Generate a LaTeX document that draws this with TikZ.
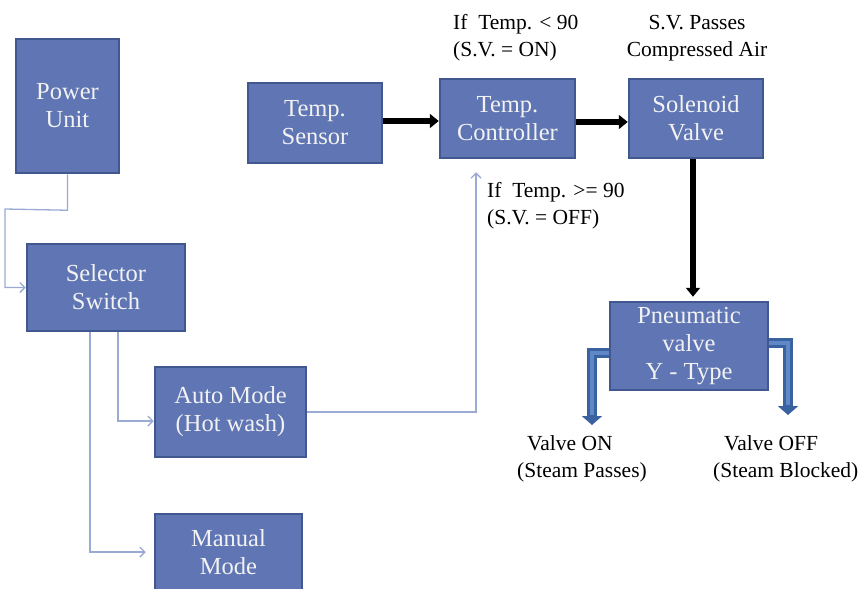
\documentclass[tikz,border=0pt]{standalone}
\usepackage{fontspec}
\setmainfont{Liberation Serif}
\usetikzlibrary{arrows.meta,calc}
\definecolor{boxfill}{HTML}{5F75B4}
\definecolor{boxline}{HTML}{42568F}
\definecolor{connline}{HTML}{9AAAD4}
\definecolor{bluedark}{HTML}{3A62A0}
\definecolor{bluelight}{HTML}{5F88C6}
\begin{document}
\begin{tikzpicture}[x=1pt,y=-1pt,
  blockbox/.style={draw=boxline,fill=boxfill,line width=2.5pt,text=white!95!black,
    align=center,inner sep=0pt,font=\fontsize{24.5}{28}\selectfont},
  conn/.style={draw=connline,line width=1.3pt,-{Straight Barb[length=5pt,width=10pt]}},
  thickarrow/.style={draw=black,line width=5.5pt,-{Triangle[length=9pt,width=14pt]}},
  lbl/.style={inner sep=0pt,align=left,font=\fontsize{21.5}{27}\selectfont},
  blueouter/.style={draw=bluedark,line width=10pt,-{Triangle[length=9pt,width=20pt]}},
  blueinner/.style={draw=bluelight,line width=4pt,shorten >=10pt},
]
\useasboundingbox (0,0) rectangle (865,589);
\node[blockbox,minimum width=103pt,minimum height=134pt] (pu) at (67.5,106) {Power\\Unit};
\node[blockbox,minimum width=158pt,minimum height=87pt] (ss) at (106,287.5) {Selector\\Switch};
\node[blockbox,minimum width=151pt,minimum height=90pt] (am) at (230.5,412) {Auto Mode\\(Hot wash)};
\node[blockbox,minimum width=147pt,minimum height=76pt] (mm) at (228.5,552) {Manual\\Mode};
\node[blockbox,minimum width=134pt,minimum height=80pt] (ts) at (315,123) {Temp.\\Sensor};
\node[blockbox,minimum width=135pt,minimum height=79pt] (tc) at (507.5,118.5) {Temp.\\Controller};
\node[blockbox,minimum width=134pt,minimum height=79pt] (sv) at (696,118.5) {Solenoid\\Valve};

\node[lbl,anchor=north west] (l1) at (453,14) {If\ \ Temp. < 90\\(S.V. = ON)};
\node[lbl,anchor=north,align=center] (l2) at (697,15) {S.V. Passes\\Compressed Air};
\node[lbl,anchor=north west] (l3) at (487,182) {If\ \ Temp. >= 90\\(S.V. = OFF)};
\node[lbl,anchor=north west] (l4) at (517,435) {\hspace{10pt}Valve ON\\(Steam Passes)};
\node[lbl,anchor=north west] (l5) at (713,435) {\hspace{11pt}Valve OFF\\(Steam Blocked)};

% light connectors
\draw[conn] (pu.south) -- ++(0,36) -- (5,209) |- (ss.west);
\draw[conn] ([xshift=12pt]ss.south) |- ([yshift=-9pt]am.west);
\draw[conn,shorten >=8pt] ([xshift=-16pt]ss.south) |- (mm.west);
\draw[conn,shorten >=13pt] (am.east) -| ([xshift=-31.5pt]tc.south);

% blue output arrows (drawn first, box on top)
\coordinate (pvw) at (614,353);
\coordinate (pve) at (764,343);
\coordinate (lc) at (592,425);
\coordinate (rc) at (788,415);
\draw[blueouter] (pvw) -| (lc);
\draw[blueinner] ([xshift=2pt]pvw) -| (lc);
\draw[blueouter] (pve) -| (rc);
\draw[blueinner] ([xshift=-2pt]pve) -| (rc);
\node[blockbox,minimum width=158pt,minimum height=88pt] (pv) at (689,346) {Pneumatic\\valve\\Y - Type};

% thick black arrows
\coordinate (a1) at ([yshift=2pt]ts.east);
\draw[thickarrow] (a1) -- (a1 -| tc.west);
\coordinate (a2) at ([yshift=-3.5pt]tc.east);
\draw[thickarrow] (a2) -- (a2 -| sv.west);
\draw[thickarrow,shorten >=4pt] ([xshift=-3pt]sv.south) -- ([xshift=4pt]pv.north);
\end{tikzpicture}
\end{document}
